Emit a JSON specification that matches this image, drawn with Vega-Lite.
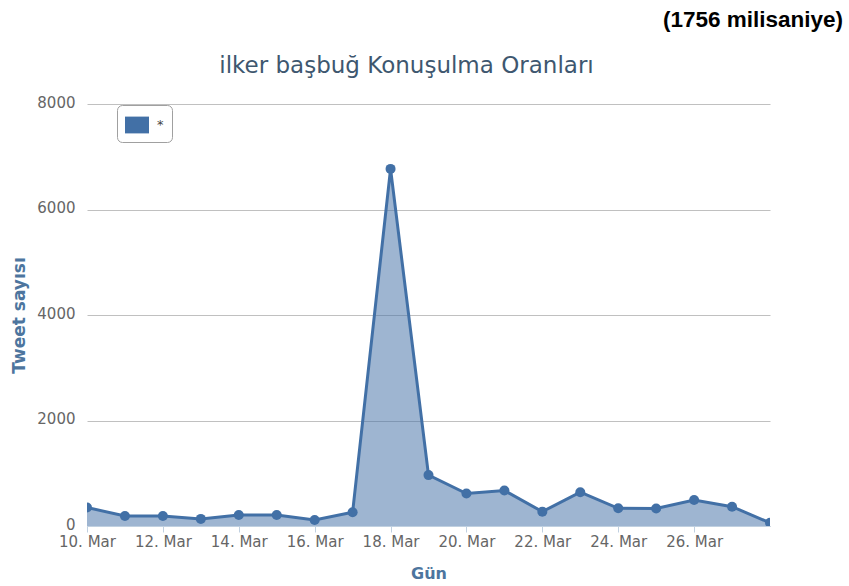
{
  "$schema": "https://vega.github.io/schema/vega-lite/v6.json",
  "padding": {"left": 10, "top": 8, "right": 5, "bottom": 5},
  "background": "white",
  "title": {
    "text": "(1756 milisaniye)",
    "anchor": "end",
    "font": "Liberation Sans",
    "fontWeight": "bold",
    "fontSize": 22.5,
    "color": "#000000",
    "dx": 73,
    "offset": 24
  },
  "config": {
    "view": {"stroke": null},
    "axis": {
      "labelFont": "DejaVu Sans",
      "labelFontSize": 15,
      "labelColor": "#666666",
      "titleFont": "DejaVu Sans",
      "titleFontSize": 16,
      "titleFontWeight": "bold",
      "titleColor": "#4D759E"
    }
  },
  "vconcat": [
    {
      "width": 683,
      "height": 422,
      "title": {
        "text": "ilker başbuğ Konuşulma Oranları",
        "font": "DejaVu Sans",
        "fontSize": 23,
        "fontWeight": "normal",
        "color": "#3E576F",
        "anchor": "middle",
        "dx": -22,
        "offset": 17
      },
      "data": {
        "values": [
          {"gun": "2014-03-10", "tweet": 350, "seri": "*"},
          {"gun": "2014-03-11", "tweet": 190, "seri": "*"},
          {"gun": "2014-03-12", "tweet": 190, "seri": "*"},
          {"gun": "2014-03-13", "tweet": 135, "seri": "*"},
          {"gun": "2014-03-14", "tweet": 208, "seri": "*"},
          {"gun": "2014-03-15", "tweet": 210, "seri": "*"},
          {"gun": "2014-03-16", "tweet": 115, "seri": "*"},
          {"gun": "2014-03-17", "tweet": 260, "seri": "*"},
          {"gun": "2014-03-18", "tweet": 6770, "seri": "*"},
          {"gun": "2014-03-19", "tweet": 965, "seri": "*"},
          {"gun": "2014-03-20", "tweet": 615, "seri": "*"},
          {"gun": "2014-03-21", "tweet": 672, "seri": "*"},
          {"gun": "2014-03-22", "tweet": 272, "seri": "*"},
          {"gun": "2014-03-23", "tweet": 640, "seri": "*"},
          {"gun": "2014-03-24", "tweet": 336, "seri": "*"},
          {"gun": "2014-03-25", "tweet": 333, "seri": "*"},
          {"gun": "2014-03-26", "tweet": 493, "seri": "*"},
          {"gun": "2014-03-27", "tweet": 366, "seri": "*"},
          {"gun": "2014-03-28", "tweet": 60, "seri": "*"}
        ]
      },
      "encoding": {
        "x": {
          "field": "gun",
          "type": "temporal",
          "scale": {"type": "utc", "domain": [{"year": 2014, "month": 3, "date": 10, "utc": true}, {"year": 2014, "month": 3, "date": 28, "utc": true}]},
          "axis": {
            "title": "Gün",
            "values": [
              {"year": 2014, "month": 3, "date": 10, "utc": true},
              {"year": 2014, "month": 3, "date": 12, "utc": true},
              {"year": 2014, "month": 3, "date": 14, "utc": true},
              {"year": 2014, "month": 3, "date": 16, "utc": true},
              {"year": 2014, "month": 3, "date": 18, "utc": true},
              {"year": 2014, "month": 3, "date": 20, "utc": true},
              {"year": 2014, "month": 3, "date": 22, "utc": true},
              {"year": 2014, "month": 3, "date": 24, "utc": true},
              {"year": 2014, "month": 3, "date": 26, "utc": true}
            ],
            "format": "%d. %b",
            "grid": false,
            "domainColor": "#C0D0E0",
            "tickColor": "#C0D0E0",
            "tickSize": 6,
            "labelPadding": 2,
            "titlePadding": 16,
            "labelFlush": false
          }
        },
        "y": {
          "field": "tweet",
          "type": "quantitative",
          "scale": {"domain": [0, 8000], "nice": false},
          "axis": {
            "title": "Tweet sayısı",
            "titleFontSize": 17,
            "values": [0, 2000, 4000, 6000, 8000],
            "format": "d",
            "grid": true,
            "gridColor": "#C0C0C0",
            "domain": false,
            "ticks": false,
            "tickSize": 0,
            "labelPadding": 12,
            "labelOffset": -2,
            "titlePadding": 8
          }
        }
      },
      "layer": [
        {
          "mark": {"type": "area", "color": "#4572A7", "opacity": 0.52, "clip": true}
        },
        {
          "mark": {"type": "line", "color": "#4270A6", "strokeWidth": 3, "clip": true}
        },
        {
          "mark": {"type": "point", "filled": true, "size": 100, "opacity": 1, "clip": true},
          "encoding": {
            "color": {
              "field": "seri",
              "type": "nominal",
              "scale": {"range": ["#4270A6"]},
              "legend": {
                "title": null,
                "orient": "none",
                "legendX": 30,
                "legendY": 1,
                "symbolType": "M-1,-0.7H1V0.7H-1Z",
                "symbolSize": 576,
                "symbolOpacity": 1,
                "symbolStrokeWidth": 0,
                "labelFont": "DejaVu Sans",
                "labelFontSize": 13,
                "labelColor": "#444444",
                "labelOffset": 8,
                "padding": 8,
                "fillColor": "white",
                "strokeColor": "#A0A0A0",
                "cornerRadius": 5
              }
            }
          }
        }
      ]
    }
  ]
}
